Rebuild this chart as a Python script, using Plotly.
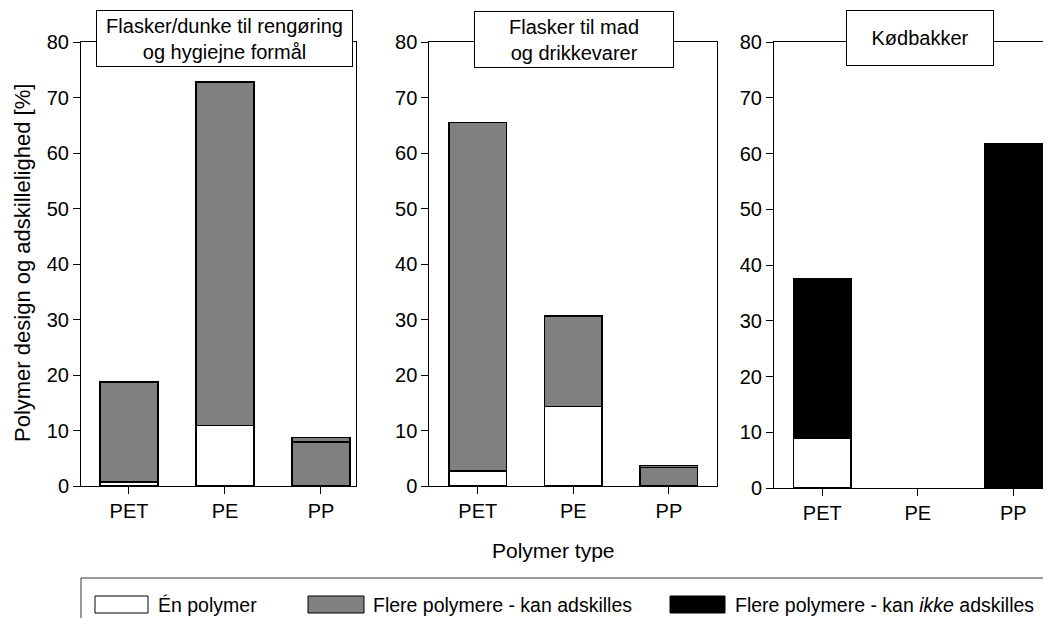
import plotly.graph_objects as go

# ---------------- data ----------------
categories = ["PET", "PE", "PP"]
panel_titles = ["Flasker/dunke til rengøring<br>og hygiejne formål",
                "Flasker til mad<br>og drikkevarer",
                "Kødbakker"]
series_names = ["Én polymer",
                "Flere polymere - kan adskilles",
                "Flere polymere - kan <i>ikke</i> adskilles"]

# Panel 1: Flasker/dunke til rengøring og hygiejne formål
p1_en = [0.7, 10.9, 0]
p1_kan = [18.0, 61.9, 7.9]
p1_kan_top = [0, 0, 0.8]
p1_ikke = [0, 0, 0]

# Panel 2: Flasker til mad og drikkevarer
p2_en = [2.7, 14.3, 0]
p2_kan = [62.8, 16.3, 3.3]
p2_kan_top = [0, 0, 0.35]
p2_ikke = [0, 0, 0]

# Panel 3: Kødbakker
p3_en = [9.0, 0, 0]
p3_kan = [0, 0, 0]
p3_kan_top = [0, 0, 0]
p3_ikke = [28.5, 0, 61.7]

y_ticks = [0, 10, 20, 30, 40, 50, 60, 70, 80]
y_title = "Polymer design og adskillelighed [%]"
x_title = "Polymer type"

# ---------------- styling ----------------
W, H = 1051, 618
OX, OY = 8, 8          # page body offset of the figure
FONT = "Arial, 'Liberation Sans', sans-serif"
FS = 20
WHITE, GRAY, BLACK = "#ffffff", "#808080", "#000000"


def px(x):
    return (x - OX) / W


def py(y):
    return 1 - (y - OY) / H


def nz(vals):
    return [v if v else None for v in vals]


fig = go.Figure()
panels = [
    (p1_en, p1_kan, p1_kan_top, p1_ikke),
    (p2_en, p2_kan, p2_kan_top, p2_ikke),
    (p3_en, p3_kan, p3_kan_top, p3_ikke),
]
for i, (en, kan, kan_top, ikke) in enumerate(panels):
    xa = "x" if i == 0 else f"x{i+1}"
    ya = "y" if i == 0 else f"y{i+1}"
    for vals, col, name in [(en, WHITE, series_names[0]),
                            (kan, GRAY, series_names[1]),
                            (kan_top, GRAY, series_names[1]),
                            (ikke, BLACK, series_names[2])]:
        fig.add_trace(go.Bar(
            x=categories, y=nz(vals), name=name, xaxis=xa, yaxis=ya,
            width=0.6, marker=dict(color=col, line=dict(color="black", width=1.5)),
            showlegend=False, hoverinfo="x+y+name"))

axis_common = dict(showline=True, linecolor="black", linewidth=1,
                   ticks="outside", ticklen=7, tickwidth=1, tickcolor="black",
                   showgrid=False, zeroline=False, automargin=False,
                   tickfont=dict(family=FONT, size=FS, color="black"))

x_doms = [(81, 356), (429.3, 716.7), (774, 1051)]
x_ranges = [[-0.5, 2.365], [-0.507, 2.5], [-0.506, 2.395]]
y_doms = [(486, 42), (486, 42), (488, 42)]

layout = dict(
    width=W, height=H, barmode="stack",
    margin=dict(l=0, r=0, t=0, b=0, autoexpand=False),
    paper_bgcolor="white", plot_bgcolor="white",
    font=dict(family=FONT, size=FS, color="black"),
    showlegend=False,
)
for i in range(3):
    sx = "" if i == 0 else str(i + 1)
    layout["xaxis" + sx] = dict(
        axis_common, domain=[px(x_doms[i][0]), min(1.0, px(x_doms[i][1]))],
        range=x_ranges[i], mirror=True, anchor="y" + sx,
        type="category")
    layout["yaxis" + sx] = dict(
        axis_common, domain=[py(y_doms[i][0]), py(y_doms[i][1])],
        range=[0, 80], tickvals=y_ticks, mirror=(i < 2),
        anchor="x" + sx)
fig.update_layout(**layout)

annotations = []
# panel title boxes
boxes = [(224, 38.5, 255, 55), (574, 39, 198, 55), (920, 38, 146, 54)]
for (cx, cy, w, h), t in zip(boxes, panel_titles):
    annotations.append(dict(
        xref="paper", yref="paper", x=px(cx), y=py(cy),
        xanchor="center", yanchor="middle", text=t, showarrow=False,
        width=w, height=h, bgcolor="white", bordercolor="black",
        borderwidth=1, borderpad=0, align="center",
        font=dict(family=FONT, size=FS, color="black")))
# axis titles
annotations.append(dict(
    xref="paper", yref="paper", x=px(22), y=py(263), text=y_title,
    textangle=-90, showarrow=False, xanchor="center", yanchor="middle",
    font=dict(family=FONT, size=22, color="black")))
annotations.append(dict(
    xref="paper", yref="paper", x=px(553), y=py(550), text=x_title,
    showarrow=False, xanchor="center", yanchor="middle",
    font=dict(family=FONT, size=21, color="black")))

# manual legend
shapes = [dict(type="rect", xref="paper", yref="paper",
               x0=px(81), x1=1.05, y0=-0.05, y1=py(578),
               line=dict(color="#333333", width=1), fillcolor="rgba(0,0,0,0)")]
leg_items = [(95, 148, 156, WHITE), (308, 364, 371, GRAY), (670, 725, 733, BLACK)]
for (sx0, sx1, tx, col), name in zip(leg_items, series_names):
    shapes.append(dict(type="rect", xref="paper", yref="paper",
                       x0=px(sx0), x1=px(sx1), y0=py(613), y1=py(596),
                       line=dict(color="black", width=1), fillcolor=col))
    annotations.append(dict(
        xref="paper", yref="paper", x=px(tx), y=py(604.5), text=name,
        showarrow=False, xanchor="left", yanchor="middle",
        font=dict(family=FONT, size=19.5, color="black")))

fig.update_layout(annotations=annotations, shapes=shapes)
fig.write_html("out.html")
